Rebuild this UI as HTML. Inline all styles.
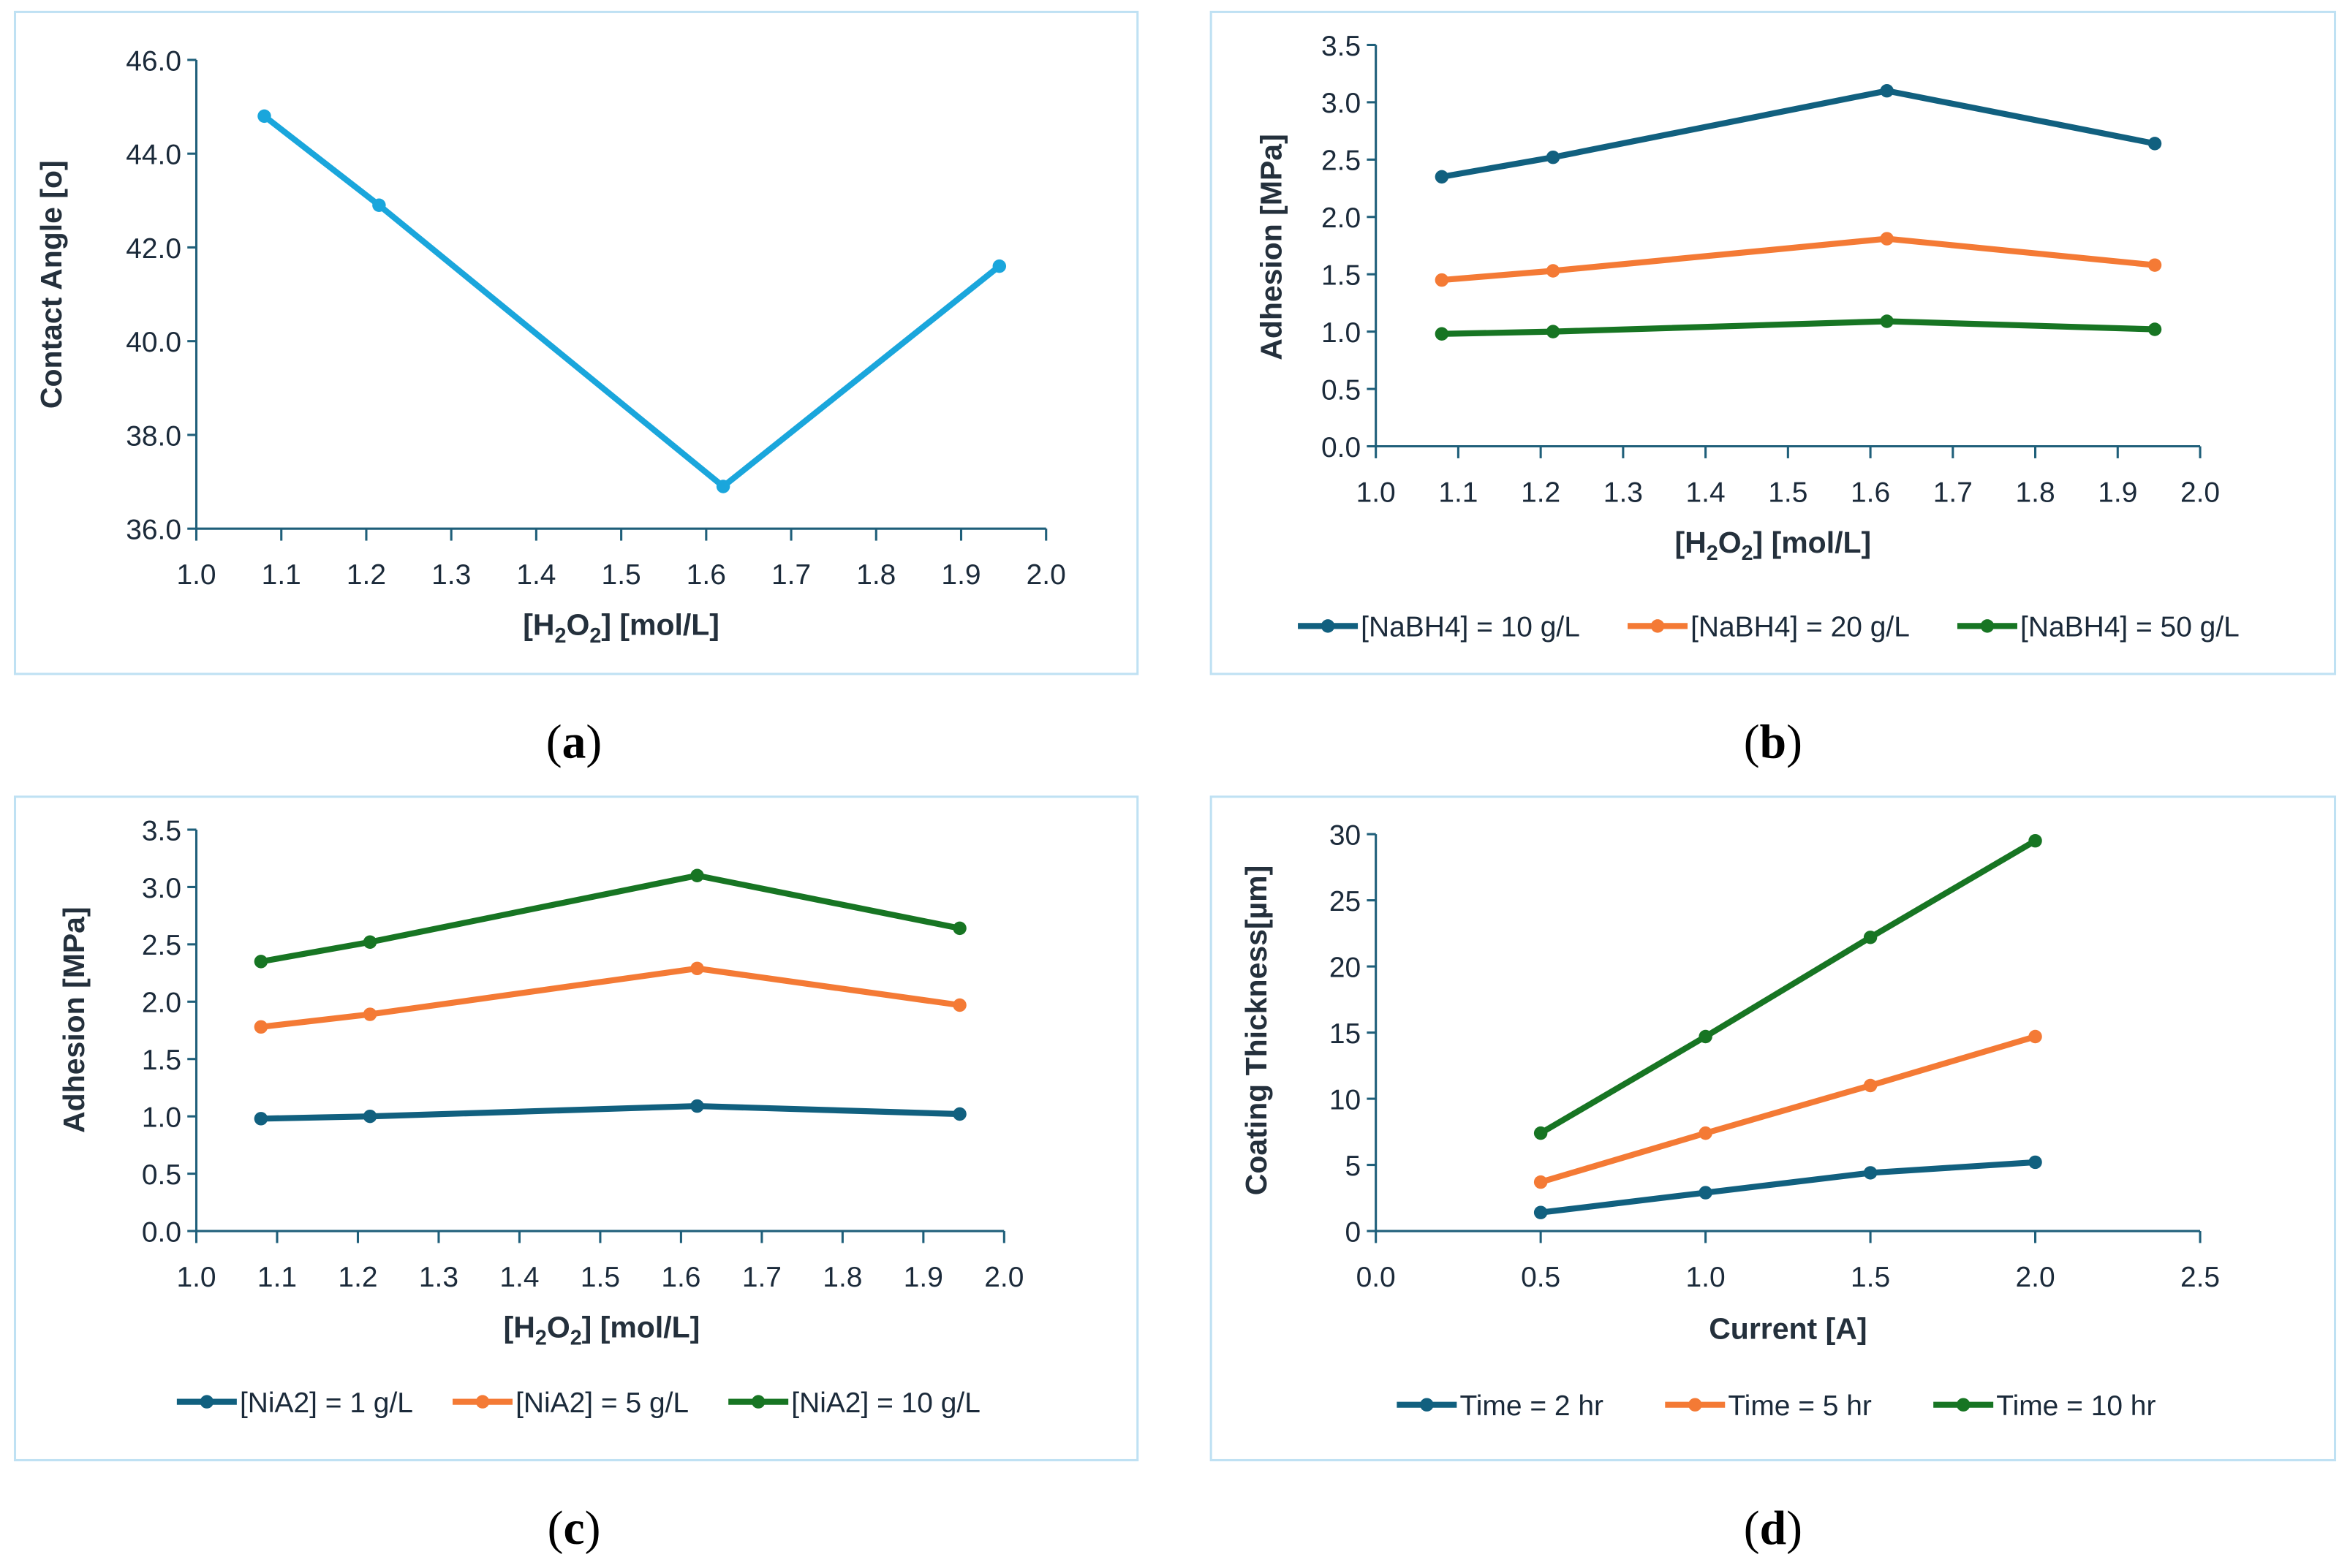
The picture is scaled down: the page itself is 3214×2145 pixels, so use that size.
<!DOCTYPE html>
<html><head><meta charset="utf-8"><style>
html,body{margin:0;padding:0;background:#fff;}
svg{display:block;}
text{font-family:"Liberation Sans Narrow","Liberation Sans",sans-serif;fill:#1b2a3a;}
.tick{font-size:19px;}
.ttl{font-family:"Liberation Sans",sans-serif;font-weight:bold;font-size:20px;fill:#24303c;}
.xttl{font-family:"Liberation Sans Narrow","Liberation Sans",sans-serif;font-weight:bold;font-size:20px;fill:#24303c;}
.leg{font-size:19px;}
.cap{font-family:"Liberation Serif",serif;font-size:32px;fill:#000;}
</style></head><body>
<svg id="fig" width="3214" height="2145" viewBox="0 0 1568 1047" preserveAspectRatio="none" xmlns="http://www.w3.org/2000/svg"></svg>
<script>
const hxCats = [1.08, 1.215, 1.62, 1.945];
const aValues = [44.8, 42.9, 36.9, 41.6];
const bNa10 = [2.35, 2.52, 3.10, 2.64];
const bNa20 = [1.45, 1.53, 1.81, 1.58];
const bNa50 = [0.98, 1.00, 1.09, 1.02];
const cNi1 = [0.98, 1.00, 1.09, 1.02];
const cNi5 = [1.78, 1.89, 2.29, 1.97];
const cNi10 = [2.35, 2.52, 3.10, 2.64];
const dCurrent = [0.5, 1.0, 1.5, 2.0];
const dT2 = [1.4, 2.9, 4.4, 5.2];
const dT5 = [3.7, 7.4, 11.0, 14.7];
const dT10 = [7.4, 14.7, 22.2, 29.5];
const hxTicks = [1.0,1.1,1.2,1.3,1.4,1.5,1.6,1.7,1.8,1.9,2.0];
const aTicks = [36,38,40,42,44,46];
const adhTicks = [0,0.5,1.0,1.5,2.0,2.5,3.0,3.5];
const dxTicks = [0,0.5,1.0,1.5,2.0,2.5];
const dyTicks = [0,5,10,15,20,25,30];

const NS="http://www.w3.org/2000/svg";
const svg=document.getElementById('fig');
const BLUE="#11607f",ORANGE="#f47a35",GREEN="#177523",LBLUE="#1aa6dc",AX="#1f5f7a";
function mk(tag,attrs,parent){const e=document.createElementNS(NS,tag);for(const k in attrs)e.setAttribute(k,attrs[k]);(parent||svg).appendChild(e);return e;}

function panel(name,box,pl,xr,yr,xt,yt,xdec,ydec,ytitle,ytx,xtitleHtml,xtitleY,series,legend,cap){
  const g=mk('g',{});
  
  
  const fr=mk('rect',{x:box[0],y:box[1],width:box[2]-box[0],height:box[3]-box[1],fill:'#fff',stroke:'#bfe1f3','stroke-width':1.5},g);
  
  
  const X=v=>pl[0]+(v-xr[0])/(xr[1]-xr[0])*(pl[2]-pl[0]);
  const Y=v=>pl[3]-(v-yr[0])/(yr[1]-yr[0])*(pl[3]-pl[1]);
  const ax=mk('path',{d:`M${pl[0]},${pl[1]} V${pl[3]} H${pl[2]}`,stroke:AX,'stroke-width':1.5,fill:'none'},g);
  
  
  yt.forEach(v=>{
    mk('line',{x1:pl[0]-6,x2:pl[0],y1:Y(v),y2:Y(v),stroke:AX,'stroke-width':1.5},g);
    const t=mk('text',{x:pl[0]-10,y:Y(v)+7,'text-anchor':'end',class:'tick'},g);
    
    
    t.textContent=v.toFixed(ydec);
  });
  xt.forEach(v=>{
    mk('line',{x1:X(v),x2:X(v),y1:pl[3],y2:pl[3]+8,stroke:AX,'stroke-width':1.5},g);
    const t=mk('text',{x:X(v),y:pl[3]+37,'text-anchor':'middle',class:'tick'},g);
    
    
    t.textContent=v.toFixed(xdec);
  });
  const yt2=mk('text',{x:0,y:0,'text-anchor':'middle',class:'ttl',transform:`translate(${ytx[0]},${ytx[1]}) rotate(-90)`},g);
  
  
  yt2.textContent=ytitle;
  const xt2=mk('text',{x:(box[0]+box[2])/2+xtitleHtml[1],y:xtitleY,'text-anchor':'middle',class:'xttl'},g);
  
  
  xt2.innerHTML=xtitleHtml[0];
  series.forEach(s=>{
    const pts=s.xs.map((x,i)=>X(x)+','+Y(s.ys[i])).join(' ');
    const pl2=mk('polyline',{points:pts,fill:'none',stroke:s.c,'stroke-width':4,'stroke-linejoin':'round'},g);
    
    
    s.xs.forEach((x,i)=>{
      const c=mk('circle',{cx:X(x),cy:Y(s.ys[i]),r:4.5,fill:s.c},g);
      
      
    });
  });
  if(legend){
    legend.items.forEach((it,i)=>{
      const lx=legend.xs[i],ly=legend.y;
      const lg=mk('g',{},g);
      
      
      mk('line',{x1:lx,x2:lx+40,y1:ly,y2:ly,stroke:series[i].c,'stroke-width':4},lg);
      mk('circle',{cx:lx+20,cy:ly,r:4.5,fill:series[i].c},lg);
      const t=mk('text',{x:lx+42,y:ly+7,class:'leg'},lg);
      t.textContent=it;
    });
  }
  const c=mk('text',{x:cap[1],y:cap[2],'text-anchor':'middle',class:'cap'},g);
  
  
  c.innerHTML=cap[0];
}
const H2O2='[H<tspan font-size="14" dy="5">2</tspan><tspan dy="-5">O</tspan><tspan font-size="14" dy="5">2</tspan><tspan dy="-5">] [mol/L]</tspan>';

panel('chart-a-contact-angle',[10,8,759,450],[131,40,698,353],[1,2],[36,46],hxTicks,aTicks,1,1,'Contact Angle [o]',[41,190],[H2O2,30],424,
  [{n:'contact-angle',xs:hxCats,ys:aValues,c:LBLUE}],null,['(<tspan font-weight="bold">a</tspan>)',383,506]);
panel('chart-b-adhesion-nabh4',[808,8,1558,450],[918,30,1468,298],[1,2],[0,3.5],hxTicks,adhTicks,1,1,'Adhesion [MPa]',[855,165],[H2O2,0],369,
  [{n:'nabh4-10',xs:hxCats,ys:bNa10,c:BLUE},{n:'nabh4-20',xs:hxCats,ys:bNa20,c:ORANGE},{n:'nabh4-50',xs:hxCats,ys:bNa50,c:GREEN}],
  {items:['[NaBH4] = 10 g/L','[NaBH4] = 20 g/L','[NaBH4] = 50 g/L'],xs:[866,1086,1306],y:418},['(<tspan font-weight="bold">b</tspan>)',1183,506]);
panel('chart-c-adhesion-nia2',[10,532,759,975],[131,554,670,822],[1,2],[0,3.5],hxTicks,adhTicks,1,1,'Adhesion [MPa]',[56,681],[H2O2,17],893,
  [{n:'nia2-1',xs:hxCats,ys:cNi1,c:BLUE},{n:'nia2-5',xs:hxCats,ys:cNi5,c:ORANGE},{n:'nia2-10',xs:hxCats,ys:cNi10,c:GREEN}],
  {items:['[NiA2] = 1 g/L','[NiA2] = 5 g/L','[NiA2] = 10 g/L'],xs:[118,302,486],y:936},['(<tspan font-weight="bold">c</tspan>)',383,1031]);
panel('chart-d-coating-thickness',[808,532,1558,975],[918,557,1468,822],[0,2.5],[0,30],dxTicks,dyTicks,1,0,'Coating Thickness[µm]',[845,688],['Current [A]',10],894,
  [{n:'time-2hr',xs:dCurrent,ys:dT2,c:BLUE},{n:'time-5hr',xs:dCurrent,ys:dT5,c:ORANGE},{n:'time-10hr',xs:dCurrent,ys:dT10,c:GREEN}],
  {items:['Time = 2 hr','Time = 5 hr','Time = 10 hr'],xs:[932,1111,1290],y:938},['(<tspan font-weight="bold">d</tspan>)',1183,1031]);
</script>
</body></html>
